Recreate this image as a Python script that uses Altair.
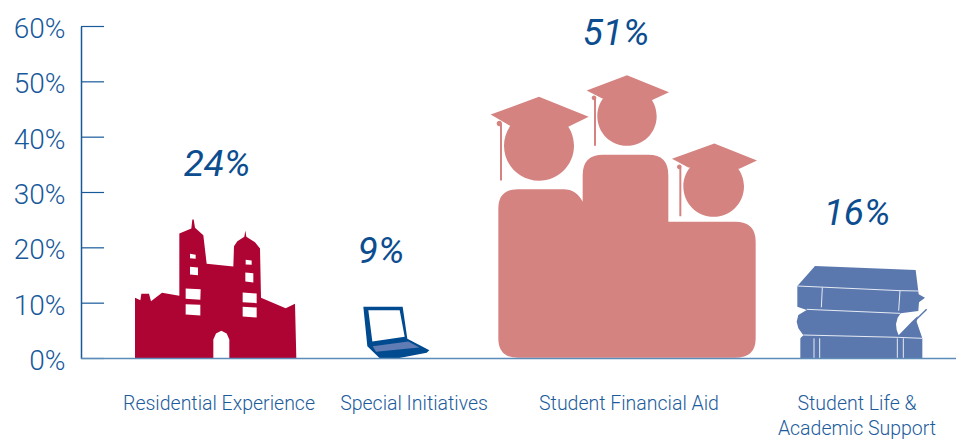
import altair as alt
import pandas as pd

CATEGORIES = ["Residential Experience", "Special Initiatives", "Student Financial Aid",
              "Student Life &\nAcademic Support"]
VALUES = [24, 9, 51, 16]
PERCENT_LABELS = ["24%", "9%", "51%", "16%"]
TICKS = [0, 10, 20, 30, 40, 50, 60]

FONT = "Roboto"
AXIS_BLUE = "#17599b"
TEXT_BLUE = "#1c5c9c"
PCT_BLUE = "#0c4d90"
BASE_BLUE = "#5c8cb8"

# Glyph outlines: drawn in a 1/3 px grid, each with its own origin.
def poly(points, origin):
    ox, oy = origin
    return "M" + " L".join(f"{x-ox:.1f} {y-oy:.1f}" for x, y in points) + " Z"

def line(points, origin):
    ox, oy = origin
    return "M" + " L".join(f"{x-ox:.1f} {y-oy:.1f}" for x, y in points)

def circle(cx, cy, r, origin):
    ox, oy = origin
    x, y = cx - ox, cy - oy
    k = 0.5523 * r
    return (f"M{x:.1f} {y-r:.1f} C{x+k:.1f} {y-r:.1f} {x+r:.1f} {y-k:.1f} {x+r:.1f} {y:.1f} "
            f"C{x+r:.1f} {y+k:.1f} {x+k:.1f} {y+r:.1f} {x:.1f} {y+r:.1f} "
            f"C{x-k:.1f} {y+r:.1f} {x-r:.1f} {y+k:.1f} {x-r:.1f} {y:.1f} "
            f"C{x-r:.1f} {y-k:.1f} {x-k:.1f} {y-r:.1f} {x:.1f} {y-r:.1f} Z")

# Castle
O = (645, 477)
castle_outer = [(405,477),(405,295),(421,302),(424,283),(447,283),(453,305),(486,280),(538,289),
    (538,102),(574,87),(577,60),(581,60),(585,85),(610,107),(620,193),(700,201),(702,140),(712,125),
    (733,112),(736,93),(739,112),(765,128),(780,147),(783,295),(857,326),(885,313),(889,477),
    (688,477),(688,420),(680,402),(664,394),(648,402),(640,420),(640,477)]
castle_windows = [
    [(570,163),(587,166),(587,178),(570,176)],
    [(570,202),(594,204),(594,227),(570,225)],
    [(557,267),(602,269),(601,301),(557,298)],
    [(557,314),(601,316),(601,348),(557,345)],
    [(737,181),(755,183),(755,196),(737,195)],
    [(736,219),(760,221),(760,249),(736,246)],
    [(728,279),(770,282),(770,311),(728,308)],
    [(728,322),(770,324),(770,354),(728,351)],
]
CASTLE = poly(castle_outer, O) + " " + " ".join(poly(w[::-1], O) for w in castle_windows)

# Laptop
O = (1282.5, 477)
LAPTOP = (poly([(1090,322),(1208,322),(1222,418),(1288,452),(1280,460),(1190,477),(1140,477),(1102,440)], O)
          + " " + poly([(1105,332),(1199,332),(1214,412),(1117,426)][::-1], O))
LAPTOP_KEYS = poly([(1118,440),(1225,426),(1258,444),(1128,457)], O)

# Graduates
O = (480, 895)
ox, oy = O
def p(x, y):
    return f"{x-ox} {y-oy}"
body = (f"M{p(55,835)} L{p(55,445)} Q{p(55,387)} {p(113,387)} L{p(250,387)} Q{p(290,387)} {p(308,425)} "
        f"L{p(308,345)} Q{p(308,284)} {p(370,284)} L{p(505,284)} Q{p(565,284)} {p(565,345)} L{p(565,485)} "
        f"L{p(765,485)} Q{p(827,485)} {p(827,545)} L{p(827,835)} Q{p(827,893)} {p(765,893)} L{p(115,893)} "
        f"Q{p(55,893)} {p(55,835)} Z")
GRADUATES = " ".join([
    body,
    circle(177, 257, 105, O), circle(441, 168, 89, O), circle(701, 379, 91, O),
    poly([(32,163),(177,110),(326,170),(265,200),(177,190),(90,197)], O),
    poly([(320,91),(441,45),(567,96),(515,120),(441,110),(367,115)], O),
    poly([(576,296),(703,250),(831,301),(778,326),(700,316),(625,322)], O),
    poly([(60,190),(66,190),(66,361),(60,361)], O), circle(58, 190, 8, O),
    poly([(342,113),(348,113),(348,257),(342,257)], O), circle(342, 113, 7, O),
    poly([(598,320),(604,320),(604,468),(598,468)], O), circle(598, 320, 7, O),
])

# Books
O = (247.5, 325.5)
BOOKS = poly([(135,48),(437,60),(446,133),(465,143),(447,157),(445,183),(440,215),(457,265),(457,326),
              (91,326),(91,265),(100,256),(85,235),(80,215),(85,195),(110,180),(82,170),(82,108)], O)
BOOK_PAGE = poly([(392,190),(445,183),(465,178),(425,215),(386,256),(380,240),(378,222),(383,203)], O)
BOOK_LINES = " ".join(line(s, O) for s in [
    [(82,108),(390,122),(447,123)], [(157,112),(154,172)], [(390,122),(386,182)],
    [(110,178),(390,190)], [(100,255),(385,262),(457,265)],
    [(132,265),(132,326)], [(149,265),(149,326)], [(382,265),(382,326)], [(400,265),(400,326)],
])
BOOK_EDGE = line([(388,258),(470,178)], O)

data = pd.DataFrame({"category": CATEGORIES, "value": VALUES, "pct": PERCENT_LABELS})

SHARED_AXIS = alt.Axis(values=TICKS, labelExpr="datum.value + '%'", tickSize=0, labelPadding=16,
                       labelFont=FONT, labelFontSize=28, labelColor=AXIS_BLUE, grid=False,
                       labelOffset=3, domainColor=AXIS_BLUE, domainWidth=1.5, title=None,
                       labelFontWeight=300)
def yenc(field):
    return alt.Y(f"{field}:Q", axis=SHARED_AXIS, scale=alt.Scale(domain=[0, 60]))

x = alt.X("category:N", axis=None, sort=CATEGORIES,
          scale=alt.Scale(type="point", domain=CATEGORIES, range=[134, 771.5], padding=0))

UNIT = 4 / 9  # size at which one glyph unit is a third of a pixel

def glyph(idx, shape, color, stroke=None, width=1.0):
    kw = dict(shape=shape, size=UNIT, opacity=1)
    if stroke:
        kw.update(filled=False, stroke=stroke, strokeWidth=width)
    else:
        kw.update(filled=True, fill=color, strokeWidth=0)
    return (alt.Chart(data.iloc[[idx]]).transform_calculate(base="0")
            .mark_point(**kw).encode(x=x, y=yenc("base")))

tick_df = pd.DataFrame({"tick": TICKS})
ticks = alt.Chart(tick_df).mark_rule(color=AXIS_BLUE, strokeWidth=1.2).encode(
    y=yenc("tick"), x=alt.value(0), x2=alt.value(23))
baseline = alt.Chart(pd.DataFrame({"tick": [0]})).mark_rule(color=BASE_BLUE, strokeWidth=1.5).encode(
    y=yenc("tick"), x=alt.value(0), x2=alt.value(875))

PCT_OFFSETS = {0: (2, -61), 1: (-46.5, -57), 2: (-24, -42), 3: (4.5, -56)}
CAT_OFFSETS = {0: 4, 1: -13.5, 2: -11, 3: 4.5}

pct_layers = [
    alt.Chart(data.iloc[[i]]).mark_text(font=FONT, fontSize=37, fontStyle="italic", fontWeight=400,
                                         color=PCT_BLUE,
                                         dx=PCT_OFFSETS[i][0], dy=PCT_OFFSETS[i][1], baseline="middle")
    .encode(x=x, y=yenc("value"), text="pct:N")
    for i in range(4)
]
cat_layers = [
    alt.Chart(data.iloc[[i]]).mark_text(font=FONT, fontSize=19.5, fontWeight=300, color=TEXT_BLUE,
                                         dx=CAT_OFFSETS[i],
                                         baseline="top", lineBreak="\n", lineHeight=25)
    .encode(x=x, y=alt.value(368), text="category:N")
    for i in range(4)
]

chart = alt.layer(
    ticks,
    glyph(0, CASTLE, "#ae0433"),
    glyph(1, LAPTOP, "#004a8f"),
    glyph(1, LAPTOP_KEYS, "#5f7cb5"),
    glyph(2, GRADUATES, "#d58380"),
    glyph(3, BOOKS, "#5b78ae"),
    glyph(3, BOOK_PAGE, "#ffffff"),
    glyph(3, BOOK_LINES, None, stroke="#e6ebf4", width=1.0),
    glyph(3, BOOK_EDGE, None, stroke="#5b78ae", width=1.5),
    baseline,
    *pct_layers, *cat_layers,
).properties(
    width=875, height=332,
    autosize=alt.AutoSizeParams(type="none"),
    padding={"left": 73, "top": 18.5, "right": 0, "bottom": 80},
).configure_view(stroke=None)

chart.save("out.html", embed_options={"renderer": "svg", "actions": False})
